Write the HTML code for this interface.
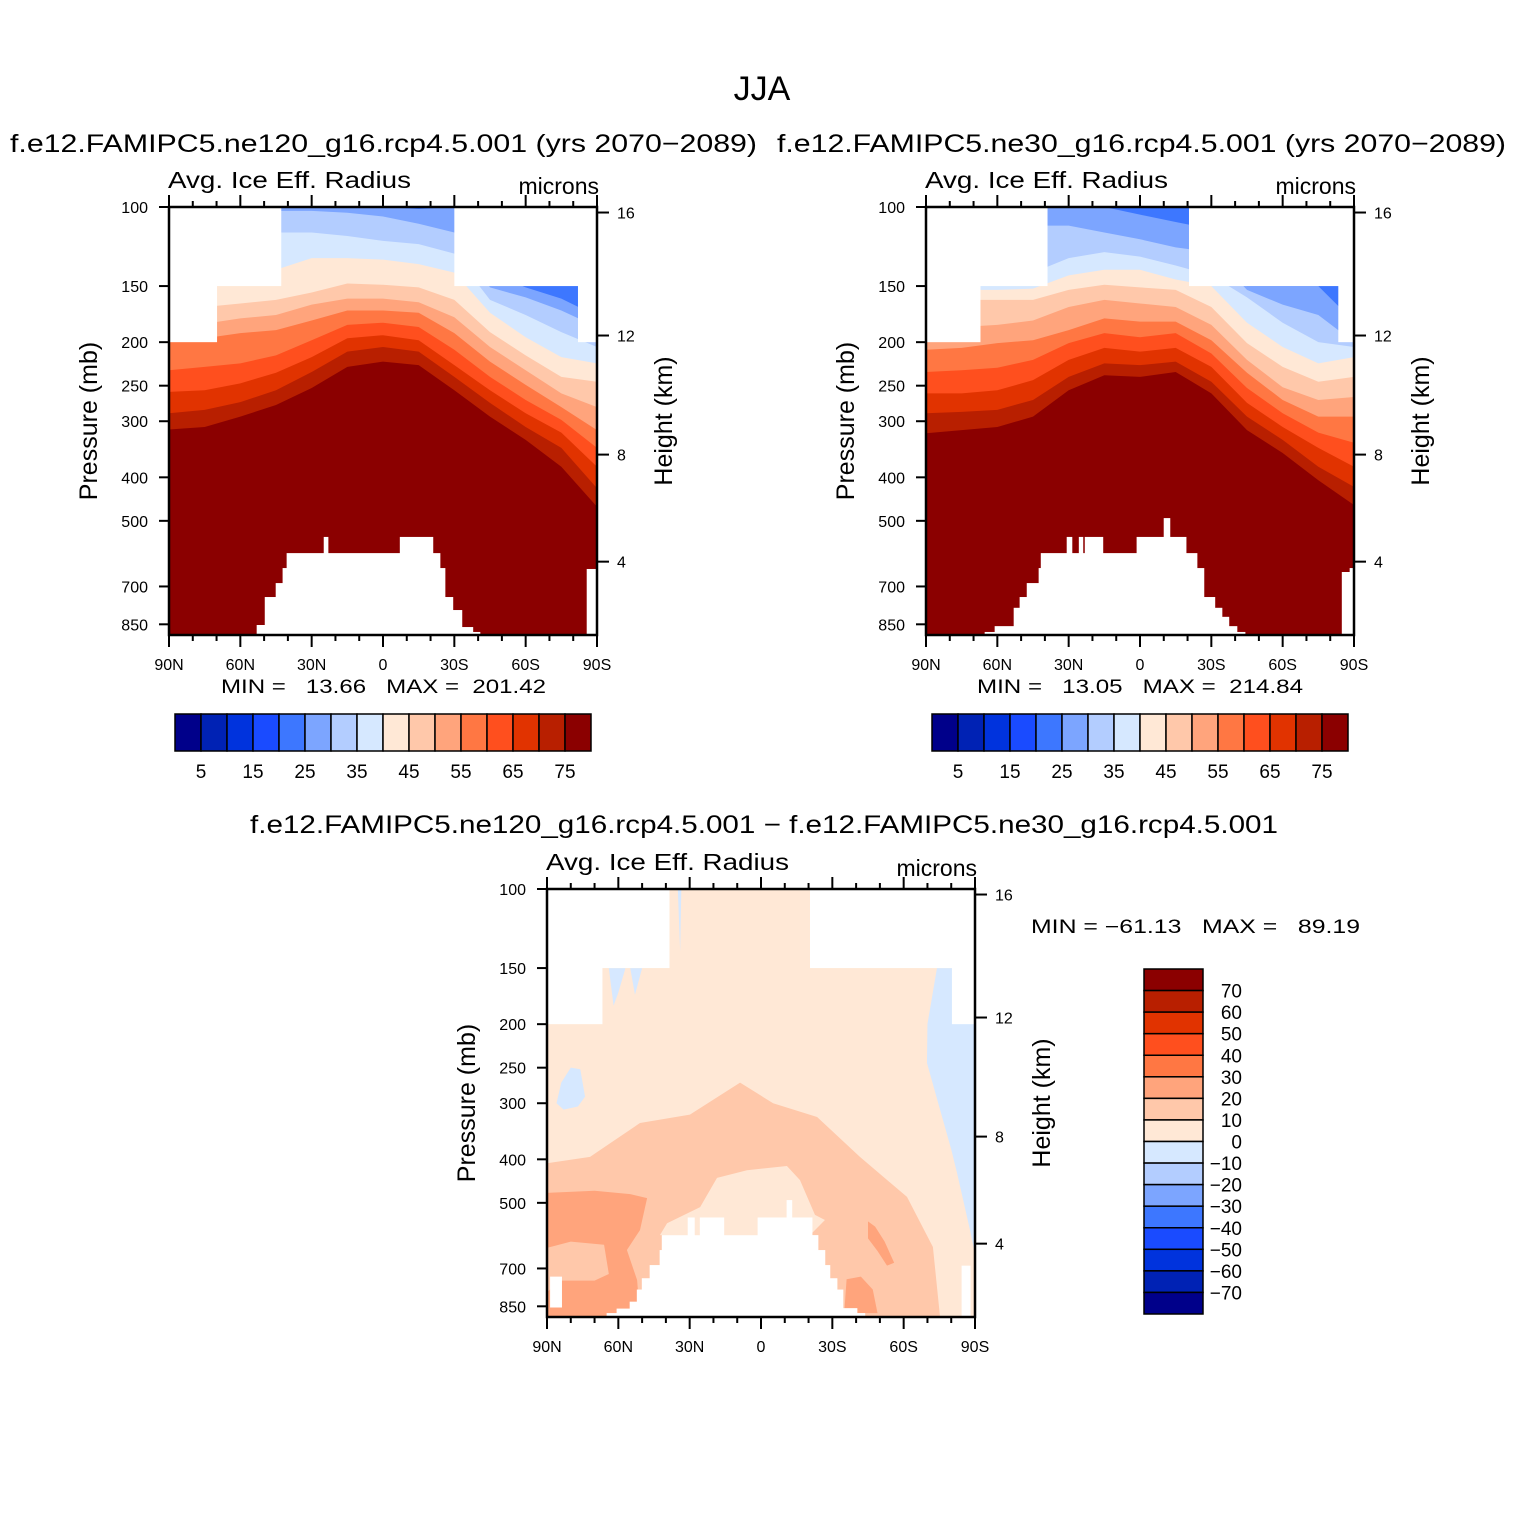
<!DOCTYPE html>
<html><head><meta charset="utf-8"><style>
html,body{margin:0;padding:0;background:#fff}
svg{display:block;font-family:"Liberation Sans",sans-serif}
</style></head><body>
<svg id="fig" width="1524" height="1524" viewBox="0 0 1524 1524" xmlns="http://www.w3.org/2000/svg">
<text x="762" y="100" font-size="34" text-anchor="middle">JJA</text>
<text x="10" y="152" font-size="25" textLength="747" lengthAdjust="spacingAndGlyphs">f.e12.FAMIPC5.ne120_g16.rcp4.5.001 (yrs 2070−2089)</text>
<text x="777" y="152" font-size="25" textLength="729" lengthAdjust="spacingAndGlyphs">f.e12.FAMIPC5.ne30_g16.rcp4.5.001 (yrs 2070−2089)</text>
<text x="250" y="833" font-size="25" textLength="1028" lengthAdjust="spacingAndGlyphs">f.e12.FAMIPC5.ne120_g16.rcp4.5.001 − f.e12.FAMIPC5.ne30_g16.rcp4.5.001</text>
<text x="221" y="693" font-size="19" textLength="325" lengthAdjust="spacingAndGlyphs" xml:space="preserve">MIN =   13.66   MAX =  201.42</text>
<text x="977" y="693" font-size="19" textLength="326" lengthAdjust="spacingAndGlyphs" xml:space="preserve">MIN =   13.05   MAX =  214.84</text>
<text x="1031" y="933" font-size="19" textLength="329" lengthAdjust="spacingAndGlyphs" xml:space="preserve">MIN = −61.13   MAX =   89.19</text>
<g id="layer"></g>
</svg>
<script>
// ---------- data ----------
const LATS=[90,75,60,45,30,15,0,-15,-30,-45,-60,-75,-90];
const LEVELS=[20,25,30,35,40,45,50,55,60,65,70,75];
const PALETTE=['#00008a','#0022b4','#0033dd','#1a4bff','#3d77ff','#7ca5ff','#b3cdff','#d6e8ff','#ffe8d6','#ffc8aa','#ffa47c','#ff7743','#ff4f1e','#e13300','#b81f00','#8b0000'];
const CBAR1_LABELS=['5','15','25','35','45','55','65','75'];
const CBAR3_LABELS=['70','60','50','40','30','20','10','0','−10','−20','−30','−40','−50','−60','−70'];
const P_TICKS=[100,150,200,250,300,400,500,700,850];
const Z_TICKS=[16,12,8,4];
const LAT_TICKS=[90,60,30,0,-30,-60,-90];
const LAT_TICK_LABELS=['90N','60N','30N','0','30S','60S','90S'];

// panel 1 isolines (pressure mb where field crosses level), by LATS
const p1_L20=[95,95,95,95,95,95,95,95,95,95,95,95,95];
const p1_L25=[100,100,100,100,100,100,100,101,100,140,151,160,175];
const p1_L30=[100,100,100,102,102,103,105,109,114,151,159,170,185];
const p1_L35=[140,140,140,114,114,116,119,121,127,161,174,190,205];
const p1_L40=[150,150,149,138,130,130,131,134,140,172,195,216,223];
const p1_L45=[170,167,164,161,155,148,149,151,161,190,214,239,245];
const p1_L50=[185,182,177,174,165,160,160,163,176,205,231,260,279];
const p1_L55=[199,196,191,188,179,170,170,172,191,221,249,279,314];
const p1_L60=[231,227,223,214,198,183,181,185,208,239,269,298,344];
const p1_L65=[258,256,247,234,216,196,193,198,225,256,288,318,379];
const p1_L70=[288,283,272,256,233,210,205,210,239,273,309,344,423];
const p1_L75=[313,309,293,276,253,227,221,225,256,293,330,379,465];
const p1_topLat=[90,70,43,-30,-82,-90];
const p1_topP=[200,150,100,150,200];
const p1_botLat=[90,53,49.6,45,42.1,40.4,24.8,23.1,-7.2,-21,-24,-26.1,-29.4,-33.2,-37.8,-40.8,-85.8,-90];
const p1_botP=[900,853,739,688,637,590,543,590,543,590,637,739,790,862,884,900,640];

// panel 2
const p2_L20=[95,95,95,95,95,95,95,95,95,95,95,95,95];
const p2_L25=[100,100,100,100,100,100,104,108,112,150,150,150,180];
const p2_L30=[110,110,110,110,110,114,118,123,126,153,165,174,200];
const p2_L35=[140,140,140,140,130,126,129,135,142,159,181,200,205];
const p2_L40=[153,153,153,152,142,138,138,145,150,181,205,223,216];
const p2_L45=[165,161,161,161,153,149,151,153,167,201,227,245,239];
const p2_L50=[190,185,183,179,167,161,164,167,183,219,252,269,265];
const p2_L55=[208,206,201,198,188,177,180,180,198,234,269,293,293];
const p2_L60=[233,231,228,219,201,191,195,191,212,253,288,318,335];
const p2_L65=[260,260,256,243,219,206,210,206,227,273,309,344,379];
const p2_L70=[288,286,283,269,239,223,225,221,245,293,330,379,420];
const p2_L75=[319,314,309,293,256,237,239,233,260,314,353,406,461];
const p2_topLat=[90,67.3,39.1,-20.6,-83.4,-90];
const p2_topP=[200,150,100,150,200];
const p2_botLat=[90,65.2,61,53,50.5,47.5,42.5,41.6,30.7,28.6,25.6,24,23.1,15.6,1.3,-10.1,-12.6,-19.4,-24,-26.9,-31.5,-34.5,-37.4,-40.8,-44.2,-85,-88.3,-90];
const p2_botP=[900,884,858,781,739,688,637,590,543,590,543,590,543,590,543,493,543,590,637,739,781,818,858,884,900,650,637];

// panel 3 (difference) regions: [lat, pressure] vertices
const p3_pos10=[[90,408],[71.9,395],[50.9,332],[29.9,318],[8.8,270],[-5.1,300],[-23.6,322],[-41.6,395],[-61.4,485],[-72.3,627],[-75.3,900],[90,900]];
const p3_hole0=[[25.6,511],[18.5,440],[5.9,423],[-10.9,414],[-16.4,445],[-22.7,532],[-26.9,546],[-20.6,590],[42.5,590],[39.5,555]];
const p3_pos20=[[90,475],[70,470],[55,478],[47.9,488],[50.9,575],[56.4,637],[52.1,743],[50.9,900],[90,900]];
const p3_in10=[[90,630],[80,610],[66,620],[64,720],[70,745],[84,745],[90,790]];
const p3_spot20=[[-45,550],[-48,565],[-52,610],[-56,680],[-53,690],[-49,640],[-45,600]];
const p3_spotB20=[[-35,880],[-36,740],[-42,730],[-47,780],[-49,880]];
const p3_neg1=[[86,300],[84,270],[80,250],[76,252],[74,290],[77,305],[83,310]];
const p3_neg2=[[-74,150],[-70,200],[-69.8,244],[-75.3,310],[-80,380],[-82.4,428],[-87.9,575],[-90,650],[-90,150]];
const p3_neg3=[[64,150],[62,182],[60,170],[57,150]];
const p3_neg4=[[55,150],[53,172],[50,150]];
const p3_neg5=[[35,100],[33.5,100],[34,138]];
const p3_hole1=[[88.7,730],[83.7,730],[83.7,855],[88.7,855]];
const p3_topLat=[90,66.9,38.7,-20.6,-80.3,-90];
const p3_topP=[200,150,100,150,200];
const p3_botLat=[90,64.8,60.6,55.1,52.1,50,46.7,42.5,41.6,30.7,28,25.6,15.6,1.3,-10.9,-13,-21.5,-24,-26.9,-29,-32,-34.5,-40.4,-43.7,-84.5,-88,-90];
const p3_botP=[900,880,860,830,780,736,688,637,590,539,590,539,590,539,493,539,590,637,688,736,780,858,880,900,690,900];

// ---------- drawing ----------
const NS='http://www.w3.org/2000/svg';
const layer=document.getElementById('layer');
function mk(tag,parent,attrs){const e=document.createElementNS(NS,tag);for(const k in attrs)e.setAttribute(k,attrs[k]);parent.appendChild(e);return e;}
const W=428,H=428,PBOT=100*Math.exp(428/195);
function axes(X0,Y0){
  return {x:lat=>X0+(90-lat)/180*W, y:p=>Y0+195*Math.log(Math.min(p,PBOT)/100)};
}
function zToP(z){ // standard atmosphere, km -> mb
  const m=z*1000;
  if(m<=11000) return 1013.25*Math.pow(1-2.25577e-5*m,5.25588);
  return 226.32*Math.exp(-(m-11000)/6341.6);
}
function drawIsolines(g,ax,lines,id){
  const base=mk('rect',g,{x:ax.x(90),y:ax.y(100),width:W,height:H,fill:PALETTE[3]});
  
  
  lines.forEach((L,k)=>{
    let pts=LATS.map((lat,i)=>ax.x(lat)+','+ax.y(L[i])).join(' ');
    pts+=' '+ax.x(-90)+','+ax.y(PBOT)+' '+ax.x(90)+','+ax.y(PBOT);
    const pg=mk('polygon',g,{points:pts,fill:PALETTE[4+k]});
    
    
  });
}
function drawRegion(g,ax,verts,color,name){
  const pg=mk('polygon',g,{points:verts.map(v=>ax.x(v[0])+','+ax.y(v[1])).join(' '),fill:color});
  
  
}
function drawMasks(g,ax,topLat,topP,botLat,botP,id){
  for(let i=0;i<topP.length;i++){
    const x1=ax.x(topLat[i]),x2=ax.x(topLat[i+1]);
    const r=mk('rect',g,{x:x1,y:ax.y(100),width:x2-x1+0.5,height:ax.y(topP[i])-ax.y(100),fill:'#fff'});
    
    
  }
  for(let i=0;i<botP.length;i++){
    if(botP[i]>=PBOT) continue;
    const x1=ax.x(botLat[i]),x2=ax.x(botLat[i+1]);
    const r=mk('rect',g,{x:x1-0.3,y:ax.y(botP[i]),width:x2-x1+0.6,height:ax.y(PBOT)-ax.y(botP[i])+1,fill:'#fff'});
    
    
  }
}
function frame(X0,Y0,ax,id){
  const g=mk('g',layer,{});
  
  
  mk('rect',g,{x:X0,y:Y0,width:W,height:H,fill:'none',stroke:'#000','stroke-width':2.5});
  for(let lat=90;lat>=-90;lat-=10){
    const maj=(lat%30===0), x=ax.x(lat), L=maj?12:6;
    mk('line',g,{x1:x,y1:Y0+H,x2:x,y2:Y0+H+L,stroke:'#000','stroke-width':2});
    mk('line',g,{x1:x,y1:Y0,x2:x,y2:Y0-L,stroke:'#000','stroke-width':2});
  }
  LAT_TICKS.forEach((lat,i)=>{
    const t=mk('text',g,{x:ax.x(lat),y:Y0+H+35,'font-size':16,'text-anchor':'middle'});
    t.textContent=LAT_TICK_LABELS[i];
    
    
  });
  P_TICKS.forEach(p=>{
    const y=ax.y(p);
    mk('line',g,{x1:X0,y1:y,x2:X0-10,y2:y,stroke:'#000','stroke-width':2});
    const t=mk('text',g,{x:X0-21,y:y+6,'font-size':16,'text-anchor':'end'});
    t.textContent=String(p);
    
    
  });
  Z_TICKS.forEach(z=>{
    const y=ax.y(zToP(z));
    mk('line',g,{x1:X0+W,y1:y,x2:X0+W+12,y2:y,stroke:'#000','stroke-width':2});
    const t=mk('text',g,{x:X0+W+20,y:y+6,'font-size':16});
    t.textContent=String(z);
    
    
  });
  const a=mk('text',g,{x:X0-1,y:Y0-19,'font-size':23,textLength:243,lengthAdjust:'spacingAndGlyphs'});
  a.textContent='Avg. Ice Eff. Radius';
  
  
  const m=mk('text',g,{x:X0+W+2,y:Y0-13,'font-size':23,'text-anchor':'end'});
  m.textContent='microns';
  
  
  const yl=mk('text',g,{x:0,y:0,'font-size':25,'text-anchor':'middle',transform:`translate(${X0-72},${Y0+214}) rotate(-90)`});
  yl.textContent='Pressure (mb)';
  
  
  const hl=mk('text',g,{x:0,y:0,'font-size':25,'text-anchor':'middle',transform:`translate(${X0+W+75},${Y0+214}) rotate(-90)`});
  hl.textContent='Height (km)';
  
  
}
function panel(X0,Y0,id,fill){
  const ax=axes(X0,Y0);
  const cp=mk('clipPath',layer,{id:'clip-'+id});
  mk('rect',cp,{x:X0,y:Y0,width:W,height:H});
  const g=mk('g',layer,{'clip-path':'url(#clip-'+id+')'});
  
  
  fill(g,ax);
  frame(X0,Y0,ax,id);
}
panel(169,207,'panel1',(g,ax)=>{
  drawIsolines(g,ax,[p1_L20,p1_L25,p1_L30,p1_L35,p1_L40,p1_L45,p1_L50,p1_L55,p1_L60,p1_L65,p1_L70,p1_L75],'panel1');
  drawMasks(g,ax,p1_topLat,p1_topP,p1_botLat,p1_botP,'panel1');
});
panel(926,207,'panel2',(g,ax)=>{
  drawIsolines(g,ax,[p2_L20,p2_L25,p2_L30,p2_L35,p2_L40,p2_L45,p2_L50,p2_L55,p2_L60,p2_L65,p2_L70,p2_L75],'panel2');
  drawMasks(g,ax,p2_topLat,p2_topP,p2_botLat,p2_botP,'panel2');
});
panel(547,889,'panel3',(g,ax)=>{
  const b=mk('rect',g,{x:547,y:889,width:W,height:H,fill:PALETTE[8]});
  
  
  drawRegion(g,ax,p3_pos10,PALETTE[9],'panel3-region-10-20');
  drawRegion(g,ax,p3_hole0,PALETTE[8],'panel3-region-0-10-inner');
  drawRegion(g,ax,p3_pos20,PALETTE[10],'panel3-region-20-30');
  drawRegion(g,ax,p3_in10,PALETTE[9],'panel3-region-10-20-inner');
  drawRegion(g,ax,p3_spot20,PALETTE[10],'panel3-spot-20-30');
  drawRegion(g,ax,p3_spotB20,PALETTE[10],'panel3-spot-20-30-south');
  [p3_neg1,p3_neg2,p3_neg3,p3_neg4,p3_neg5].forEach((r,i)=>drawRegion(g,ax,r,PALETTE[7],'panel3-negative-region-'+(i+1)));
  drawRegion(g,ax,p3_hole1,'#ffffff','panel3-missing-island');
  drawMasks(g,ax,p3_topLat,p3_topP,p3_botLat,p3_botP,'panel3');
});
// horizontal colorbars
[[175,'panel1'],[932,'panel2']].forEach(([X,id])=>{
  const g=mk('g',layer,{});
  
  
  PALETTE.forEach((c,i)=>{
    const r=mk('rect',g,{x:X+i*26,y:714,width:26,height:37,fill:c,stroke:'#000','stroke-width':1.5});
    
    
  });
  CBAR1_LABELS.forEach((s,i)=>{
    const t=mk('text',g,{x:X+26*(2*i+1),y:778,'font-size':19,'text-anchor':'middle'});
    t.textContent=s;
    
    
  });
});
// vertical colorbar
(function(){
  const g=mk('g',layer,{});
  
  
  const bh=345/16;
  PALETTE.slice().reverse().forEach((c,i)=>{
    const r=mk('rect',g,{x:1144,y:969+i*bh,width:59,height:bh,fill:c,stroke:'#000','stroke-width':1.5});
    
    
  });
  CBAR3_LABELS.forEach((s,i)=>{
    const t=mk('text',g,{x:1242,y:969+(i+1)*bh+7,'font-size':19,'text-anchor':'end'});
    t.textContent=s;
    
    
  });
})();
</script>
</body></html>
